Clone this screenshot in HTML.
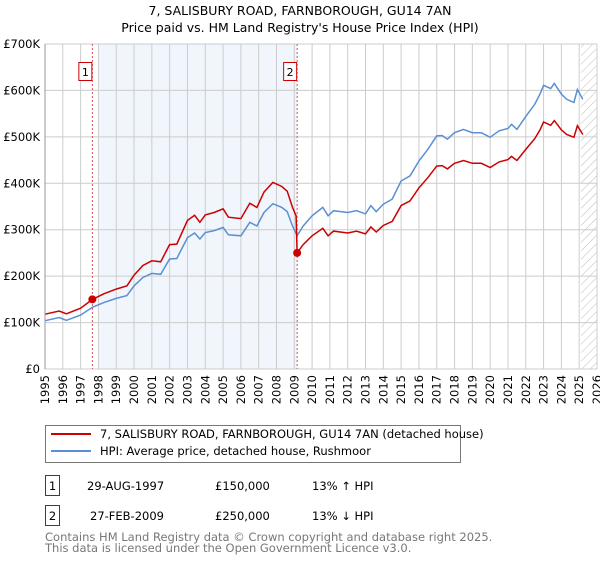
<!DOCTYPE html>
<html><head><meta charset="utf-8"><style>
body{margin:0;width:600px;height:560px;background:#fff;font-family:"Liberation Sans","DejaVu Sans",sans-serif;overflow:hidden}
svg text{font-family:"DejaVu Sans","Liberation Sans",sans-serif}
</style></head><body>
<svg id="c" width="600" height="560" xmlns="http://www.w3.org/2000/svg">
<text x="300" y="15" text-anchor="middle" font-size="12.5" fill="#000">7, SALISBURY ROAD, FARNBOROUGH, GU14 7AN</text>
<text x="300" y="32" text-anchor="middle" font-size="12.5" fill="#000">Price paid vs. HM Land Registry's House Price Index (HPI)</text>
<g id="plot"></g>
<g>
<rect x="45.5" y="425.5" width="415" height="37" fill="#fff" stroke="#777"/>
<line x1="51" y1="434" x2="91" y2="434" stroke="#cc0000" stroke-width="2"/>
<text x="100" y="438" font-size="11.5">7, SALISBURY ROAD, FARNBOROUGH, GU14 7AN (detached house)</text>
<line x1="51" y1="451" x2="91" y2="451" stroke="#5b8fd4" stroke-width="2"/>
<text x="100" y="455" font-size="11.5">HPI: Average price, detached house, Rushmoor</text>
</g>
<g font-size="11.5">
<rect x="45.5" y="475.5" width="14" height="20" fill="#fff" stroke="#cc0000"/><text x="52.5" y="490" text-anchor="middle">1</text>
<text x="87" y="490">29-AUG-1997</text><text x="215" y="490">£150,000</text><text x="312" y="490">13% ↑ HPI</text>
<rect x="45.5" y="505.5" width="14" height="20" fill="#fff" stroke="#cc0000"/><text x="52.5" y="520" text-anchor="middle">2</text>
<text x="90" y="520">27-FEB-2009</text><text x="215" y="520">£250,000</text><text x="312" y="520">13% ↓ HPI</text>
</g>
<text x="45" y="541" font-size="11.5" fill="#777">Contains HM Land Registry data © Crown copyright and database right 2025.</text>
<text x="45" y="552" font-size="11.5" fill="#777">This data is licensed under the Open Government Licence v3.0.</text>
</svg>
<script>
const years=[1995,1995.8,1996.2,1997,1997.66,1998.3,1999,1999.6,2000,2000.5,2001,2001.5,2002,2002.4,2003,2003.4,2003.7,2004,2004.5,2005,2005.3,2006,2006.5,2006.9,2007.3,2007.8,2008.3,2008.6,2008.9,2009.1,2009.16,2009.5,2010,2010.6,2010.9,2011.2,2012,2012.5,2013,2013.3,2013.6,2014,2014.5,2015,2015.5,2016,2016.5,2017,2017.3,2017.6,2018,2018.5,2019,2019.5,2020,2020.5,2021,2021.2,2021.5,2022,2022.5,2022.8,2023,2023.4,2023.6,2024,2024.3,2024.7,2024.9,2025.2];
const hpiValues=[104,111,105,116,133,143,152,158,179,197,206,204,237,238,283,293,280,294,298,305,289,287,316,308,337,356,348,339,308,292,287,308,330,348,330,341,337,341,334,352,339,355,366,405,416,448,473,502,503,495,509,516,509,509,499,513,518,527,516,544,570,592,611,604,615,592,581,574,602,581];
const propValues=[118,125,119,131,150,162,172,179,202,223,233,231,268,269,320,331,316,332,337,345,327,324,357,348,381,402,393,383,348,330,250,268,287,303,287,297,293,297,291,306,295,309,318,352,362,390,412,437,438,431,443,449,443,443,434,446,451,458,449,473,496,515,532,525,535,515,505,499,524,505];
const yTicks=[0,100,200,300,400,500,600,700];
const yTickLabels=["£0","£100K","£200K","£300K","£400K","£500K","£600K","£700K"];
const xTicks=[1995,1996,1997,1998,1999,2000,2001,2002,2003,2004,2005,2006,2007,2008,2009,2010,2011,2012,2013,2014,2015,2016,2017,2018,2019,2020,2021,2022,2023,2024,2025,2026];
const saleYears=[1997.66,2009.16];
const saleValues=[150,250];
const saleLabels=["1","2"];
const NS="http://www.w3.org/2000/svg";
const X0=45,X1=597,Y0=369,Y1=44;
const sx=y=>X0+(y-1995)/(2026-1995)*(X1-X0);
const sy=v=>Y0-v/700*(Y0-Y1);
const g=document.getElementById('plot');
function mk(t,a){const e=document.createElementNS(NS,t);for(const k in a)e.setAttribute(k,a[k]);g.appendChild(e);return e;}
let e=mk('rect',{x:sx(1998),y:Y1,width:sx(2009.16)-sx(1998),height:Y0-Y1,fill:'#eef4fd',opacity:0.8});


const defs=mk('defs',{});
defs.innerHTML='<pattern id="h" width="6" height="6" patternUnits="userSpaceOnUse" patternTransform="rotate(45)"><line x1="0" y1="0" x2="0" y2="6" stroke="#bbb" stroke-width="1"/></pattern>';
e=mk('rect',{x:sx(2025.1),y:Y1,width:X1-sx(2025.1),height:Y0-Y1,fill:'url(#h)'});


xTicks.forEach(t=>{
 let l=mk('line',{x1:sx(t),x2:sx(t),y1:Y1,y2:Y0,stroke:'#ccc'});
 
 
 let tx=mk('text',{x:0,y:0,'text-anchor':'end','font-size':'11.5',transform:`translate(${(sx(t)+4).toFixed(1)},375) rotate(-90)`});tx.textContent=t;
 
 
});
yTicks.forEach((t,i)=>{
 let l=mk('line',{x1:X0,x2:X1,y1:sy(t),y2:sy(t),stroke:'#ccc'});
 
 
 let tx=mk('text',{x:40,y:sy(t)+4,'text-anchor':'end','font-size':'11.5'});tx.textContent=yTickLabels[i];
 
 
});
saleYears.forEach((s,i)=>{
 let l=mk('line',{x1:sx(s),x2:sx(s),y1:Y1,y2:Y0,stroke:'#e05050','stroke-dasharray':'2,2'});
 
 
 let r=mk('rect',{x:sx(s)-13.5,y:62.5,width:13,height:18,fill:'#fff',stroke:'#cc0000'});
 
 
 let tx=mk('text',{x:sx(s)-7,y:76,'text-anchor':'middle','font-size':'11'});tx.textContent=saleLabels[i];
 
 
});
const path=vals=>vals.map((v,i)=>(i?'L':'M')+sx(years[i]).toFixed(1)+','+sy(v).toFixed(1)).join('');
e=mk('path',{d:path(hpiValues),fill:'none',stroke:'#5b8fd4','stroke-width':1.5});


e=mk('path',{d:path(propValues),fill:'none',stroke:'#cc0000','stroke-width':1.5});


saleYears.forEach((s,i)=>{
 let c=mk('circle',{cx:sx(s),cy:sy(saleValues[i]),r:4,fill:'#cc0000'});
 
 
});
e=mk('line',{x1:X0,x2:X0,y1:Y1,y2:Y0,stroke:'#999'});


</script>
</body></html>
